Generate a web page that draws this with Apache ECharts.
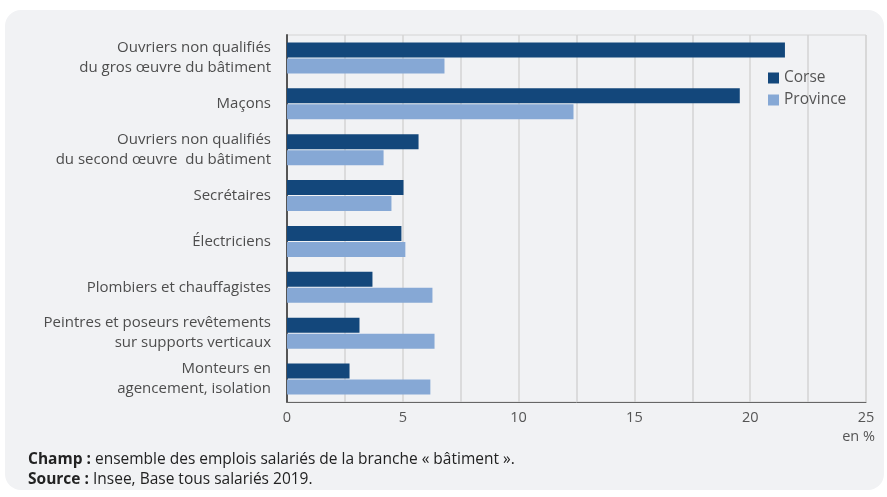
<!DOCTYPE html>
<html>
<head>
<meta charset="utf-8">
<script src="https://cdn.jsdelivr.net/npm/echarts@6/dist/echarts.min.js"></script>
<style>
  html, body { margin: 0; padding: 0; background: #fff; }
  #chart { width: 887px; height: 497px; }
</style>
</head>
<body>
<div id="chart"></div>
<script>
// categories top to bottom
const categories = [
  'Ouvriers non qualifiés\ndu gros œuvre du bâtiment',
  'Maçons',
  'Ouvriers non qualifiés\ndu second œuvre  du bâtiment',
  'Secrétaires',
  'Électriciens',
  'Plombiers et chauffagistes',
  'Peintres et poseurs revêtements\nsur supports verticaux',
  'Monteurs en\nagencement, isolation'
]
const corse = [21.5, 19.55, 5.68, 5.03, 4.94, 3.69, 3.13, 2.7]
const province = [6.8, 12.37, 4.17, 4.51, 5.11, 6.28, 6.37, 6.19]
const seriesNames = ['Corse', 'Province']
const colors = ['#13477b', '#86a8d5']

const font = "'Open Sans', sans-serif"
const chart = echarts.init(document.getElementById('chart'))

const option = {
  animation: false,
  textStyle: { fontFamily: font },
  graphic: [
    {
      type: 'rect',
      z: -10,
      shape: { x: 5, y: 10, width: 879, height: 480, r: 16 },
      style: { fill: '#f1f2f4' }
    },
    {
      type: 'text',
      left: 28,
      top: 450,
      style: {
        text: '{b|Champ :} ensemble des emplois salariés de la branche « bâtiment ».\n{b|Source :} Insee, Base tous salariés 2019.',
        fontFamily: font,
        fontSize: 15.5,
        lineHeight: 20,
        fill: '#222',
        rich: {
          b: { fontWeight: 'bold', fontSize: 15.5, fontFamily: font, fill: '#222' }
        }
      }
    }
  ],
  legend: {
    orient: 'vertical',
    left: 763,
    top: 65,
    itemWidth: 11,
    itemHeight: 11,
    itemGap: 6,
    icon: 'rect',
    textStyle: { color: '#555', fontSize: 15.5, fontFamily: font },
    data: seriesNames
  },
  grid: {
    left: 287,
    right: 21,
    top: 35,
    bottom: 95,
    show: true,
    borderColor: '#d4d4d4',
    borderWidth: 1,
    backgroundColor: 'transparent'
  },
  xAxis: {
    type: 'value',
    min: 0,
    max: 25,
    interval: 5,
    name: 'en %',
    nameLocation: 'end',
    nameGap: 0,
    nameTextStyle: {
      color: '#555', fontSize: 14.5, fontFamily: font,
      align: 'right', verticalAlign: 'top', padding: [27, -9, 0, 0]
    },
    axisLine: { show: true, lineStyle: { color: '#666', width: 1 } },
    axisTick: { show: false },
    axisLabel: { color: '#555', fontSize: 14.5, fontFamily: font, margin: 8 },
    splitLine: { show: true, lineStyle: { color: '#d4d4d4', width: 1.5 } },
    minorTick: { show: false, splitNumber: 2 },
    minorSplitLine: { show: true, lineStyle: { color: '#d4d4d4', width: 1.5 } }
  },
  yAxis: {
    type: 'category',
    inverse: true,
    data: categories,
    axisLine: { show: true, lineStyle: { color: '#555', width: 2 } },
    axisTick: { show: false },
    axisLabel: {
      color: '#4d4d4d', fontSize: 15, fontFamily: font,
      lineHeight: 20, margin: 16, align: 'right'
    }
  },
  series: [
    {
      name: seriesNames[0],
      type: 'bar',
      data: corse,
      barWidth: 15,
      barGap: '7%',
      itemStyle: { color: colors[0] }
    },
    {
      name: seriesNames[1],
      type: 'bar',
      data: province,
      barWidth: 15,
      barGap: '7%',
      itemStyle: { color: colors[1] }
    }
  ]
}

chart.setOption(option)
</script>
</body>
</html>
